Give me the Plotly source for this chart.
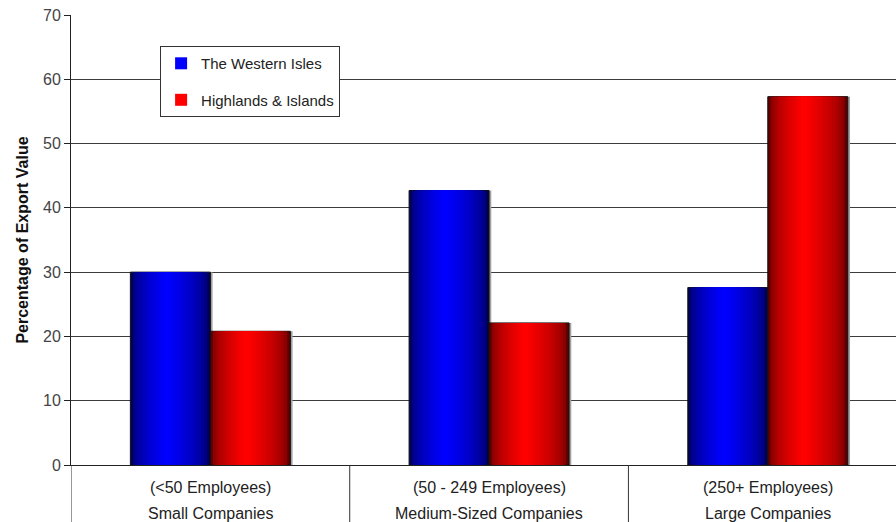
import plotly.graph_objects as go

categories_top = ["(&lt;50 Employees)", "(50 - 249 Employees)", "(250+ Employees)"]
categories_bottom = ["Small Companies", "Medium-Sized Companies", "Large Companies"]
western_isles = [30.0, 42.7, 27.6]
highlands_islands = [20.8, 22.1, 57.3]
series_names = ["The Western Isles", "Highlands & Islands"]
y_ticks = [0, 10, 20, 30, 40, 50, 60, 70]

x_pos = list(range(len(categories_top)))
BAR_W = 0.287
N_LAYERS = 14


def mix(c0, c1, t):
    return "rgb(%d,%d,%d)" % tuple(round(a + (b - a) * t) for a, b in zip(c0, c1))


def add_gradient_bar(fig, values, left, dark, bright, name, group):
    # shadow
    fig.add_trace(go.Bar(x=x_pos, y=values, width=BAR_W, offset=left + 0.008,
                         marker=dict(color="#a0a0a0", line=dict(width=0)),
                         showlegend=False, hoverinfo="skip"))
    for k in range(N_LAYERS):
        frac = 1 - k / N_LAYERS
        w = BAR_W * frac
        off = left + (BAR_W - w) * 0.45
        t = (k / (N_LAYERS - 1)) ** 0.5
        last = k == N_LAYERS - 1
        fig.add_trace(go.Bar(
            x=x_pos, y=values, width=w, offset=off,
            marker=dict(color=mix(dark, bright, t),
                        line=dict(width=1 if k == 0 else 0, color="#111111")),
            name=name, legendgroup=group, showlegend=last,
            hoverinfo="y" if last else "skip"))


fig = go.Figure()
add_gradient_bar(fig, western_isles, -BAR_W, (0, 0, 85), (0, 0, 255), series_names[0], "w")
add_gradient_bar(fig, highlands_islands, 0.0, (95, 0, 0), (255, 0, 0), series_names[1], "h")

shapes = []
for b in [-0.5, 0.5, 1.5]:
    shapes.append(dict(type="line", xref="x", yref="paper", x0=b, x1=b, y0=0, y1=-0.13,
                       line=dict(color="#333333", width=1)))

annotations = []
for i in x_pos:
    annotations.append(dict(x=i, y=-0.049, xref="x", yref="paper", text=categories_top[i],
                            showarrow=False, yanchor="middle",
                            font=dict(family="Liberation Sans, Arial", size=16, color="#222222")))
    annotations.append(dict(x=i, y=-0.107, xref="x", yref="paper", text=categories_bottom[i],
                            showarrow=False, yanchor="middle",
                            font=dict(family="Liberation Sans, Arial", size=16, color="#222222")))

fig.update_layout(
    width=896, height=522,
    margin=dict(l=71, r=0, t=15, b=57),
    paper_bgcolor="white", plot_bgcolor="white",
    barmode="overlay",
    font=dict(family="Liberation Sans, Arial", size=15, color="#222222"),
    shapes=shapes, annotations=annotations,
    legend=dict(x=0.108, y=0.931, xanchor="left", yanchor="top",
                bgcolor="white", bordercolor="#333333", borderwidth=1,
                traceorder="grouped", tracegroupgap=14,
                entrywidth=145, entrywidthmode="pixels",
                font=dict(family="Liberation Sans, Arial", size=15, color="#222222")),
    xaxis=dict(range=[-0.5, 2.46], showticklabels=False, showgrid=False,
               showline=True, linecolor="#222222", linewidth=1, zeroline=False,
               fixedrange=True),
    yaxis=dict(range=[0, 70], tickvals=y_ticks, showgrid=True, gridcolor="#3c3c3c",
               gridwidth=1, showline=True, linecolor="#222222", linewidth=1,
               ticks="outside", ticklen=6, tickcolor="#222222", zeroline=False,
               tickfont=dict(family="Liberation Sans, Arial", size=16, color="#444444"),
               title=dict(text="<b>Percentage of Export Value</b>", standoff=10,
                          font=dict(family="Liberation Sans Narrow, Arial Narrow, Liberation Sans",
                                    size=16, color="#111111")),
               fixedrange=True),
)

fig.write_html("out.html")
